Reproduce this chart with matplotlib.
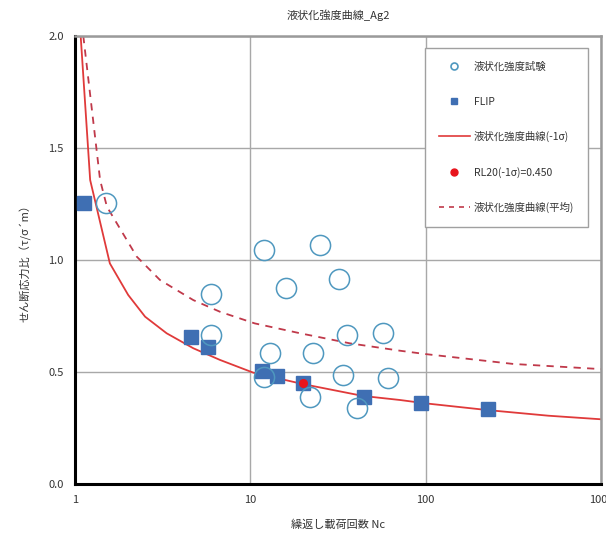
import numpy as np
import matplotlib
matplotlib.use("Agg")
from matplotlib import pyplot as plt
from matplotlib.lines import Line2D

plt.rcParams['font.family'] = ['Noto Sans CJK JP', 'DejaVu Sans']

# liquefaction test results (hollow circles)
test_n = [1.50, 5.97, 5.97, 11.97, 25.0, 16.0, 31.9, 35.8, 56.9,
          12.9, 22.9, 11.9, 21.9, 33.9, 60.8, 40.8]
test_r = [1.256, 0.847, 0.664, 1.045, 1.067, 0.876, 0.917, 0.664, 0.676,
          0.583, 0.583, 0.479, 0.390, 0.487, 0.472, 0.338]

# FLIP results (squares)
flip_n = [1.13, 4.59, 5.71, 11.6, 14.2, 20.0, 44.5, 93.7, 226]
flip_r = [1.254, 0.658, 0.613, 0.504, 0.481, 0.450, 0.390, 0.360, 0.335]

# strength curve (-1 sigma)
low_n = [1.077, 1.22, 1.58, 2.01, 2.51, 3.33, 4.73, 6.71, 10.4, 20.0, 44.0,
         71.5, 100, 226, 500, 1000]
low_r = [2.0, 1.357, 0.985, 0.844, 0.747, 0.673, 0.606, 0.554, 0.497, 0.446,
         0.393, 0.375, 0.360, 0.330, 0.305, 0.289]

# strength curve (mean)
avg_n = [1.115, 1.39, 1.52, 2.25, 3.05, 4.73, 6.71, 10.6, 19.2, 37.0, 71.5,
         100, 316, 1000]
avg_r = [2.0, 1.357, 1.238, 1.015, 0.911, 0.821, 0.769, 0.717, 0.673, 0.628,
         0.595, 0.580, 0.536, 0.513]

rl20_n = [20.0]
rl20_r = [0.450]

labels = ['液状化強度試験', 'FLIP', '液状化強度曲線(-1σ)', 'RL20(-1σ)=0.450',
          '液状化強度曲線(平均)']

circ_c = '#4f98bf'
sq_c = '#3f6fb3'
line_c = '#e03a3a'
dash_c = '#c0394a'
grid_c = '#a8a8a8'

fig = plt.figure(figsize=(6.06, 5.35), dpi=100)
ax = fig.add_axes([0.1238, 0.0953, 0.8679, 0.8374])

ax.plot(avg_n, avg_r, color=dash_c, lw=1.3, ls=(0, (4, 3.5)), zorder=2)
ax.plot(low_n, low_r, color=line_c, lw=1.3, zorder=2)
ax.plot(flip_n, flip_r, ls='none', marker='s', ms=10.5, color=sq_c, zorder=3)
ax.plot(test_n, test_r, ls='none', marker='o', ms=14.5, mfc='none',
        mec=circ_c, mew=1.1, zorder=4)
ax.plot(rl20_n, rl20_r, ls='none', marker='o', ms=5.5, color='#e8141c', zorder=5)

ax.set_xscale('log')
ax.set_xlim(1, 1000)
ax.set_ylim(0, 2.0)
ax.set_xticks([1, 10, 100, 1000])
ax.set_xticklabels(['1', '10', '100', '1000'])
ax.set_yticks([0, 0.5, 1.0, 1.5, 2.0])
ax.set_yticklabels(['0.0', '0.5', '1.0', '1.5', '2.0'])
ax.minorticks_off()
ax.tick_params(length=0, labelsize=8, colors='#333333', pad=8)
ax.grid(True, color=grid_c, lw=1.0)
ax.set_axisbelow(True)

for s in ['left', 'bottom']:
    ax.spines[s].set_color('black')
    ax.spines[s].set_linewidth(2.2)
for s in ['top', 'right']:
    ax.spines[s].set_color('#9a9a9a')
    ax.spines[s].set_linewidth(1.8)

ax.set_title('液状化強度曲線_Ag2', fontsize=8, color='#333333', pad=12)
ax.set_xlabel('繰返し載荷回数 Nc', fontsize=8, color='#333333', labelpad=10)
ax.set_ylabel('せん断応力比（τ/σ´m）', fontsize=8, color='#333333', labelpad=12)

handles = [
    Line2D([], [], ls='none', marker='o', ms=5, mfc='none', mec=circ_c, mew=1.2),
    Line2D([], [], ls='none', marker='s', ms=5, color=sq_c),
    Line2D([], [], color=line_c, lw=1.2),
    Line2D([], [], ls='none', marker='o', ms=5, color='#e8141c'),
    Line2D([], [], color=dash_c, lw=1.2, ls=(0, (3, 3))),
]
leg = ax.legend(handles, labels, loc='upper right', bbox_to_anchor=(0.985, 0.984),
                fontsize=7.5, labelspacing=2.35, handlelength=3.0,
                handletextpad=0.4, borderpad=1.3, fancybox=False,
                edgecolor='#a0a0a0', framealpha=1)
leg.get_frame().set_linewidth(1.0)
for t in leg.get_texts():
    t.set_color('#333333')

fig.savefig('out.png', dpi=100)
